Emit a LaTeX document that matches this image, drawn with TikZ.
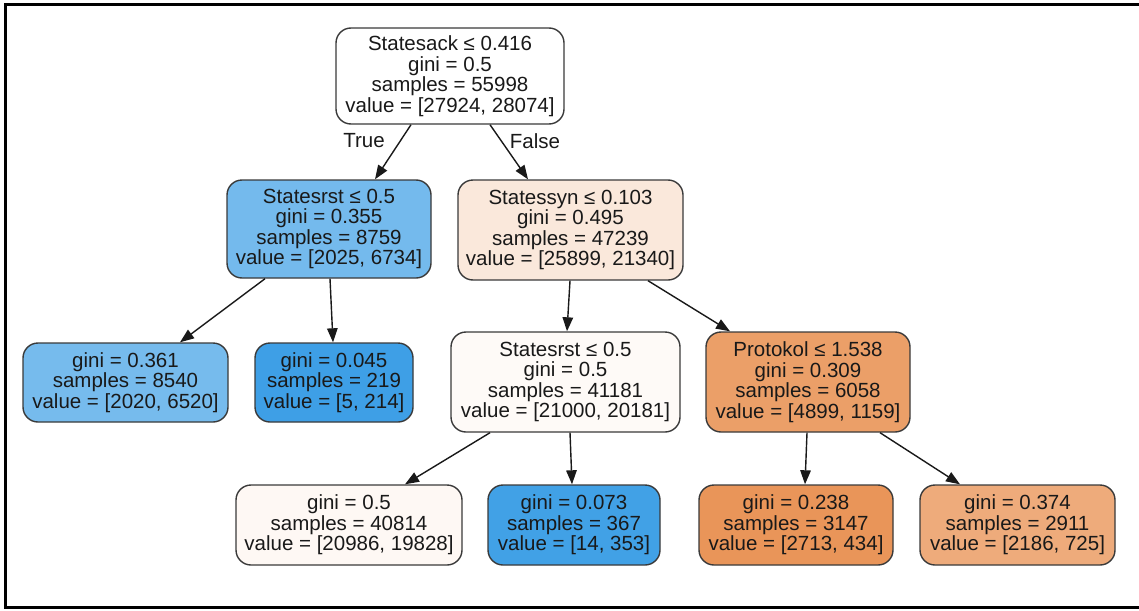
\documentclass[tikz,border=0pt]{standalone}
\usepackage{fontspec}
\setmainfont{Liberation Sans}
\usetikzlibrary{arrows.meta}

% node fill colours (class shading of a decision tree)
\definecolor{cRoot}{HTML}{FFFFFF}
\definecolor{cLa}{HTML}{74BAED}
\definecolor{cRa}{HTML}{FAE8DB}
\definecolor{cLLa}{HTML}{76BBED}
\definecolor{cLLb}{HTML}{3E9FE6}
\definecolor{cRLa}{HTML}{FEFAF7}
\definecolor{cRRa}{HTML}{EB9F68}
\definecolor{cX1}{HTML}{FEF8F4}
\definecolor{cX2}{HTML}{41A1E6}
\definecolor{cX3}{HTML}{E99559}
\definecolor{cX4}{HTML}{EEAB7B}
\definecolor{border}{HTML}{3A3A3A}

\begin{document}
\begin{tikzpicture}[x=1pt,y=-1pt,
  treenode/.style={draw=border, line width=1.4pt, rounded corners=15pt,
    align=center, inner sep=0pt, text=black!90,
    font=\fontsize{20.5}{20.6}\selectfont},
  edge/.style={draw=black!90, line width=1.4pt,
    -{Triangle[length=14pt,width=10.5pt]}},
  branch/.style={font=\fontsize{20.5}{20.6}\selectfont, text=black!90}]

\useasboundingbox (0,0) rectangle (1139,610);
% outer frame (right side runs off the page)
\draw[line width=3pt] (1160,5) -- (5,5) -- (5,607) -- (1160,607);

% level 0
\node[treenode, fill=cRoot, minimum width=228pt, minimum height=96pt] (root) at (450,76)
  {Statesack ≤ 0.416\\gini = 0.5\\samples = 55998\\value = [27924, 28074]};

% level 1
\node[treenode, fill=cLa, minimum width=204pt, minimum height=98pt] (l1l) at (329,229)
  {Statesrst ≤ 0.5\\gini = 0.355\\samples = 8759\\value = [2025, 6734]};
\node[treenode, fill=cRa, minimum width=225pt, minimum height=100pt] (l1r) at (570.5,230)
  {Statessyn ≤ 0.103\\gini = 0.495\\samples = 47239\\value = [25899, 21340]};

% level 2
\node[treenode, fill=cLLa, minimum width=205pt, minimum height=79pt] (l2a) at (125.5,382.5)
  {gini = 0.361\\samples = 8540\\value = [2020, 6520]};
\node[treenode, fill=cLLb, minimum width=158pt, minimum height=79pt] (l2b) at (334,382.5)
  {gini = 0.045\\samples = 219\\value = [5, 214]};
\node[treenode, fill=cRLa, minimum width=229pt, minimum height=100pt] (l2c) at (565.5,382)
  {Statesrst ≤ 0.5\\gini = 0.5\\samples = 41181\\value = [21000, 20181]};
\node[treenode, fill=cRRa, minimum width=204pt, minimum height=100pt] (l2d) at (808,382)
  {Protokol ≤ 1.538\\gini = 0.309\\samples = 6058\\value = [4899, 1159]};

% level 3
\node[treenode, fill=cX1, minimum width=226pt, minimum height=80pt] (l3a) at (349,525)
  {gini = 0.5\\samples = 40814\\value = [20986, 19828]};
\node[treenode, fill=cX2, minimum width=172pt, minimum height=80pt] (l3b) at (574,525)
  {gini = 0.073\\samples = 367\\value = [14, 353]};
\node[treenode, fill=cX3, minimum width=194pt, minimum height=80pt] (l3c) at (796,525)
  {gini = 0.238\\samples = 3147\\value = [2713, 434]};
\node[treenode, fill=cX4, minimum width=195pt, minimum height=80pt] (l3d) at (1017.5,525)
  {gini = 0.374\\samples = 2911\\value = [2186, 725]};

% edges
\draw[edge] ([xshift=-39pt]root.south) -- ([xshift=46pt]l1l.north);
\draw[edge] ([xshift=40pt]root.south) -- ([xshift=-42.5pt]l1r.north);
\draw[edge] ([xshift=-64pt]l1l.south) -- ([xshift=54.5pt]l2a.north);
\draw[edge] ([xshift=1pt]l1l.south) -- ([xshift=-1pt]l2b.north);
\draw[edge] ([xshift=-0.5pt]l1r.south) -- ([xshift=1.5pt]l2c.north);
\draw[edge] ([xshift=77.5pt]l1r.south) -- ([xshift=-78pt]l2d.north);
\draw[edge] ([xshift=-75.5pt]l2c.south) -- ([xshift=56pt]l3a.north);
\draw[edge] ([xshift=4.5pt]l2c.south) -- ([xshift=-2pt]l3b.north);
\draw[edge] ([xshift=-1pt]l2d.south) -- ([xshift=9pt]l3c.north);
\draw[edge] ([xshift=72pt]l2d.south) -- ([xshift=-57.5pt]l3d.north);

% branch labels
\node[branch] (ltrue) at (364,141) {True};
\node[branch] (lfalse) at (535,141) {False};
\end{tikzpicture}
\end{document}
